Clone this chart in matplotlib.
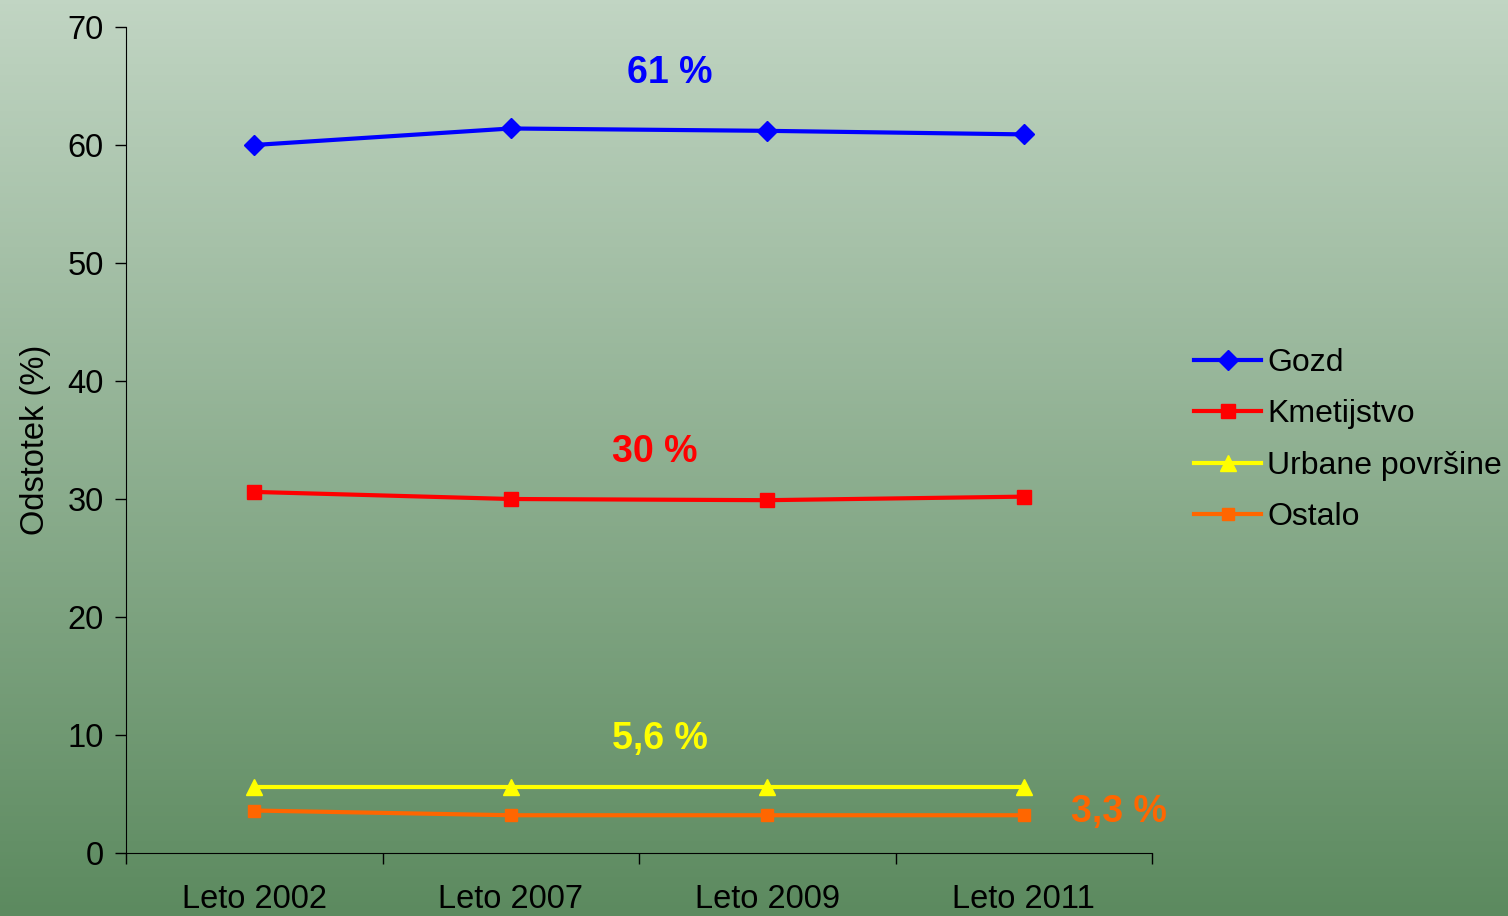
import numpy as np
import matplotlib.pyplot as plt
from matplotlib.colors import LinearSegmentedColormap

plt.rcParams['font.family'] = ['Liberation Sans', 'DejaVu Sans']

# podatki
leta = ['Leto 2002', 'Leto 2007', 'Leto 2009', 'Leto 2011']
gozd = [60.0, 61.4, 61.2, 60.9]
kmetijstvo = [30.6, 30.0, 29.9, 30.2]
urbane = [5.6, 5.6, 5.6, 5.6]
ostalo = [3.6, 3.2, 3.2, 3.2]
oznake = ['61 %', '30 %', '5,6 %', '3,3 %']

fig = plt.figure(figsize=(15.08, 9.16), dpi=100)

# ozadje - gradient
bg = fig.add_axes([0, 0, 1, 1], zorder=-10)
cmap = LinearSegmentedColormap.from_list('bg', ['#c1d5c3', '#5c8a5f'])
bg.imshow(np.linspace(0, 1, 256).reshape(-1, 1), aspect='auto', cmap=cmap,
          extent=[0, 1, 0, 1])
bg.axis('off')

ax = fig.add_axes([126/1508, 1-853/916, (1152-126)/1508, (853-27)/916])
ax.patch.set_alpha(0)

x = np.arange(len(leta))
ax.plot(x, gozd, color='#0000ff', lw=3, marker='D', ms=10, label='Gozd')
ax.plot(x, kmetijstvo, color='#ff0000', lw=3, marker='s', ms=10, label='Kmetijstvo')
ax.plot(x, urbane, color='#ffff00', lw=3, marker='^', ms=12, label='Urbane površine')
ax.plot(x, ostalo, color='#ff6600', lw=3, marker='s', ms=9, label='Ostalo')

ax.set_xlim(-0.5, 3.5)
ax.set_ylim(0, 70)
ax.set_yticks(range(0, 71, 10))
ax.set_xticks(x)
ax.set_xticklabels(leta)
ax.set_xticks(np.arange(-0.5, 4, 1), minor=True)
ax.tick_params(axis='x', which='major', length=0, labelsize=23.5, pad=22)
ax.tick_params(axis='x', which='minor', length=8, width=1)
ax.tick_params(axis='y', labelsize=23.5, length=8, width=1, pad=8)
for s in ['top', 'right']:
    ax.spines[s].set_visible(False)
ax.set_ylabel('Odstotek (%)', fontsize=23.5, labelpad=12)

# oznake deležev
ax.text(1.62, 66.1, oznake[0], color='#0000ff', fontsize=27, fontweight='bold', ha='center', va='center')
ax.text(1.56, 34.0, oznake[1], color='#ff0000', fontsize=27, fontweight='bold', ha='center', va='center')
ax.text(1.58, 9.7, oznake[2], color='#ffff00', fontsize=27, fontweight='bold', ha='center', va='center')
ax.text(3.37, 3.5, oznake[3], color='#ff6600', fontsize=27, fontweight='bold', ha='center', va='center')

fig.legend(loc='center left', bbox_to_anchor=(1178/1508, 1-440/916), frameon=False,
           fontsize=23, handlelength=2.1, handletextpad=0.2, labelspacing=0.67,
           borderpad=0)

fig.savefig('out.png', dpi=100)
